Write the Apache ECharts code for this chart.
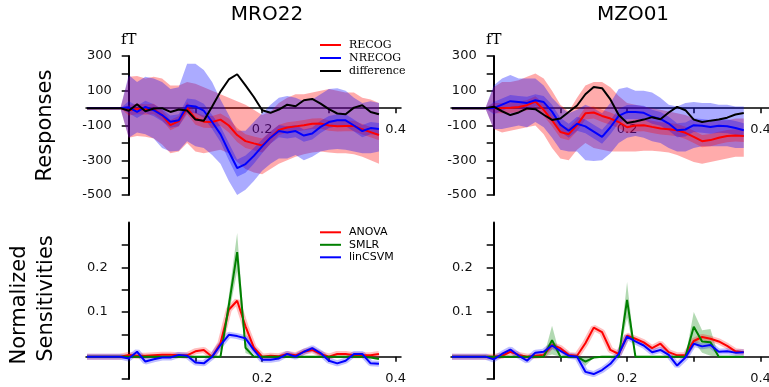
<!DOCTYPE html>
<html><head><meta charset="utf-8">
<script src="https://cdn.jsdelivr.net/npm/echarts@6/dist/echarts.min.js"></script>
<style>html,body{margin:0;padding:0;background:#fff}#c{width:769px;height:387px}</style>
</head><body><div id="c"></div>
<script>
// ---- time axis (s) ----
const times = [-0.0625,-0.05,-0.0375,-0.025,-0.0125,0,0.0125,0.025,0.0375,0.05,0.0625,0.075,0.0875,0.1,0.1125,0.125,0.1375,0.15,0.1625,0.175,0.1875,0.2,0.2125,0.225,0.2375,0.25,0.2625,0.275,0.2875,0.3,0.3125,0.325,0.3375,0.35,0.3625,0.375];
const xTicks = [0, 0.1, 0.2, 0.3, 0.4];
const xTickLabels = [0.2, 0.4];
const respTickLabels = [300, 100, -100, -300, -500];
const sensTicks = [-0.05, 0, 0.05, 0.1, 0.15, 0.2, 0.25];
const sensTickLabels = [0.1, 0.2];
const titles = ['MRO22', 'MZO01'];

// ---- MRO22 responses (fT) ----
const mroRecog   = [0,0,0,0,0,-12,-5,-8,-5,-40,-98,-75,0,-60,-78,-80,-66,-100,-155,-190,-203,-215,-170,-125,-112,-105,-98,-90,-88,-100,-105,-103,-103,-122,-138,-155];
const mroNrecog  = [0,0,0,0,0,5,-22,7,-12,-40,-78,-70,15,10,-15,-80,-150,-250,-345,-322,-275,-220,-170,-132,-140,-132,-158,-146,-108,-80,-70,-70,-100,-132,-115,-120];
const mroDiff    = [0,0,0,0,0,-15,22,-18,-2,0,-22,-8,-14,-66,-73,10,95,165,195,131,64,-12,-27,-8,20,11,45,53,26,-6,-31,-35,3,17,-22,-35];
const mroRecogHi = [0,0,0,0,0,180,185,170,180,170,130,130,150,140,120,100,80,60,40,20,-10,-40,-20,30,60,80,80,90,100,110,100,90,90,60,50,30];
const mroRecogLo = [0,0,0,0,0,-170,-160,-165,-175,-210,-260,-250,-200,-250,-260,-250,-240,-260,-310,-350,-370,-380,-350,-320,-300,-280,-265,-255,-250,-255,-260,-260,-265,-280,-300,-320];
const mroNrecogHi= [0,0,0,0,0,190,150,180,170,150,110,120,255,255,220,150,50,-40,-130,-130,-80,-30,20,60,70,60,40,50,80,110,115,100,60,30,40,30];
const mroNrecogLo= [0,0,0,0,0,-170,-140,-150,-175,-230,-250,-245,-190,-220,-230,-270,-320,-420,-500,-470,-420,-360,-320,-290,-290,-270,-300,-280,-250,-240,-235,-240,-250,-260,-260,-250];
const mroRecogSem  = [0,0,0,0,0,30,30,30,30,30,30,30,35,35,35,35,35,40,40,40,40,40,35,30,30,30,30,30,30,30,30,30,30,30,30,30];
const mroNrecogSem = [0,0,0,0,0,35,35,35,35,35,35,35,40,40,40,40,45,50,50,50,45,40,35,35,35,35,35,35,35,35,35,35,35,35,35,35];

// ---- MZO01 responses (fT) ----
const mzoRecog   = [0,0,0,0,0,0,0,2,7,17,38,-10,-70,-137,-150,-98,-30,-25,-45,-60,-80,-110,-100,-98,-108,-117,-121,-127,-142,-165,-190,-184,-171,-161,-157,-160];
const mzoNrecog  = [0,0,0,0,0,0,20,40,35,30,45,35,-20,-95,-130,-90,-105,-135,-165,-110,-45,-22,-22,-27,-50,-62,-89,-127,-123,-98,-102,-108,-102,-104,-114,-127];
const mzoDiff    = [0,0,0,0,0,8,-18,-40,-25,-2,-6,-38,-68,-60,-22,15,80,122,115,50,-40,-85,-77,-66,-52,-64,-25,7,-12,-66,-80,-72,-66,-55,-37,-28];
const mzoRecogHi = [0,0,0,0,0,120,150,150,160,180,200,170,100,20,-20,60,130,150,150,120,70,30,20,10,0,-10,-20,-30,-40,-60,-80,-80,-70,-70,-60,-60];
const mzoRecogLo = [0,0,0,0,0,-120,-140,-130,-120,-110,-100,-150,-230,-290,-300,-240,-200,-230,-240,-250,-250,-250,-250,-245,-245,-250,-255,-270,-290,-310,-320,-310,-300,-290,-280,-280];
const mzoNrecogHi= [0,0,0,0,0,130,170,190,170,170,170,130,60,10,-30,-10,20,0,-30,30,110,120,100,100,90,60,20,10,30,35,30,30,20,20,10,10];
const mzoNrecogLo= [0,0,0,0,0,-120,-120,-110,-100,-110,-80,-110,-170,-240,-250,-250,-300,-305,-300,-260,-200,-170,-160,-170,-190,-200,-230,-250,-250,-230,-220,-220,-220,-220,-230,-230];
const mzoRecogSem  = [0,0,0,0,0,30,30,30,30,30,30,35,35,35,35,35,35,35,35,35,35,35,35,35,35,35,35,35,35,35,35,35,35,35,35,35];
const mzoNrecogSem = [0,0,0,0,0,35,35,35,35,35,35,35,40,40,40,40,40,40,40,40,40,40,40,40,40,40,40,40,40,40,40,40,40,40,40,40];

// ---- normalized sensitivities ----
const mroAnova = [0,0,0,0,0,0.004,0.002,0.002,0.003,0.004,0.004,0.003,0.003,0.012,0.015,0.0,0.03,0.105,0.125,0.068,0.02,0.0,0.002,0.001,0.006,0.003,0.011,0.015,0.006,0.0,0.006,0.006,0.003,0.003,0.003,0.006];
const mroSmlr  = [0,0,0,0,0,0,0,0,0,0,0,0,0,0,0,0,0,0.115,0.234,0.02,0,0,0,0,0,0,0,0,0,0,0,0,0,0,-0.002,-0.005];
const mroSmlrSpread = [0,0,0,0,0,0,0,0,0,0,0,0,0,0,0,0,0,0.02,0.043,0.012,0,0,0,0,0,0,0,0,0,0,0,0,0,0,0,0];
const mroCsvm  = [0,0,0,0,0,-0.004,0.011,-0.011,-0.006,-0.002,-0.002,0.004,0.002,-0.013,-0.015,0.0,0.026,0.049,0.046,0.041,0.015,-0.007,-0.007,-0.004,0.006,0.0,0.011,0.019,0.008,-0.009,-0.015,-0.009,0.006,0.006,-0.015,-0.016];
const mzoAnova = [0,0,0,0,0,0,0.002,0.011,0.004,0.0,0.002,0.004,0.026,0.019,0.004,0.002,0.03,0.065,0.055,0.015,0.006,0.047,0.04,0.032,0.019,0.029,0.01,0.003,0.003,0.035,0.044,0.04,0.034,0.024,0.012,0.01];
const mzoSmlr  = [0,0,0,0,0,0,0,0,0,0,0,0,0.037,0,0,0,-0.011,-0.002,0,0,0,0.127,0,0,0,0,0,0,0,0.067,0.034,0.032,0,0,0,0];
const mzoSmlrSpread = [0,0,0,0,0,0,0,0,0,0,0,0,0.032,0,0,0,0.01,0,0,0,0,0.04,0,0,0,0,0,0,0,0.033,0.025,0.03,0,0,0,0];
const mzoCsvm  = [0,0,0,0,0,-0.006,0.006,0.016,0.002,-0.009,0.009,0.011,0.025,0.013,0.002,0.0,-0.034,-0.039,-0.03,-0.016,0.006,0.045,0.034,0.025,0.01,0.015,0.004,-0.02,-0.002,0.029,0.023,0.026,0.011,0.012,0.009,0.01];

// ---- helpers ----
const RED = '#ff0000', BLUE = '#0000ff', GREEN = '#008000', BLACK = '#000000';
const pairs = arr => times.map((t, i) => [t, arr[i]]);
const plus = (a, b) => a.map((v, i) => v + b[i]);
const minus = (a, b) => a.map((v, i) => v - b[i]);

function band(idx, lower, upper, color, z) {
  return {
    type: 'custom', xAxisIndex: idx, yAxisIndex: idx, silent: true, z: z,
    data: [[times[0], lower[0]]], encode: { x: 0, y: 1 },
    renderItem: function (params, api) {
      const pts = [];
      for (let i = 0; i < times.length; i++) pts.push(api.coord([times[i], upper[i]]));
      for (let i = times.length - 1; i >= 0; i--) pts.push(api.coord([times[i], lower[i]]));
      return { type: 'polygon', shape: { points: pts }, style: { fill: color } };
    }
  };
}
function line(idx, name, arr, color, width, z) {
  return {
    type: 'line', name: name, xAxisIndex: idx, yAxisIndex: idx, data: pairs(arr),
    symbol: 'none', silent: true, z: z,
    lineStyle: { color: color, width: width }, itemStyle: { color: color }
  };
}

const series = [];
[[0, mroRecog, mroNrecog, mroDiff, mroRecogHi, mroRecogLo, mroNrecogHi, mroNrecogLo, mroRecogSem, mroNrecogSem],
 [1, mzoRecog, mzoNrecog, mzoDiff, mzoRecogHi, mzoRecogLo, mzoNrecogHi, mzoNrecogLo, mzoRecogSem, mzoNrecogSem]]
.forEach(function (p) {
  const [i, rc, nr, df, rh, rl, nh, nl, rs, ns] = p;
  series.push(band(i, rl, rh, 'rgba(255,0,0,0.33)', 1));
  series.push(band(i, nl, nh, 'rgba(0,0,255,0.33)', 1));
  series.push(band(i, minus(rc, rs), plus(rc, rs), 'rgba(255,0,0,0.3)', 1));
  series.push(band(i, minus(nr, ns), plus(nr, ns), 'rgba(0,0,255,0.3)', 1));
  series.push(line(i, 'RECOG', rc, RED, 2, 3));
  series.push(line(i, 'NRECOG', nr, BLUE, 2, 3));
  series.push(line(i, 'difference', df, BLACK, 2, 3));
});
[[2, mroAnova, mroSmlr, mroSmlrSpread, mroCsvm],
 [3, mzoAnova, mzoSmlr, mzoSmlrSpread, mzoCsvm]]
.forEach(function (p) {
  const [i, an, sm, ss, cs] = p;
  series.push(band(i, minus(sm, ss), plus(sm, ss), 'rgba(0,128,0,0.3)', 1));
  series.push(line(i, 'ANOVA halo', an, 'rgba(255,0,0,0.25)', 6, 2));
  series.push(line(i, 'linCSVM halo', cs, 'rgba(0,0,255,0.25)', 6, 2));
  series.push(line(i, 'ANOVA', an, RED, 2, 3));
  series.push(line(i, 'SMLR', sm, GREEN, 2, 3));
  series.push(line(i, 'linCSVM', cs, BLUE, 2, 3));
});

const gridBoxes = [
  { left: 86, top: 56, width: 315, height: 139 },
  { left: 451, top: 56, width: 318, height: 139 },
  { left: 86, top: 222.6, width: 315, height: 156.4 },
  { left: 451, top: 222.6, width: 318, height: 156.4 }
];
const grids = gridBoxes.map(g => Object.assign({ containLabel: false, outerBoundsMode: 'none' }, g));
const xRanges = [[-0.064, 0.408], [-0.064, 0.4128], [-0.064, 0.408], [-0.064, 0.4128]];
const yRanges = [[-500, 300], [-500, 300], [-0.05, 0.3], [-0.05, 0.3]];

const axisFont = { fontFamily: 'DejaVu Sans', fontSize: 13, color: '#111' };
const xAxes = [0, 1, 2, 3].map(i => {
  const [ymin, ymax] = yRanges[i];
  // place the x axis on y = 0
  const off = -gridBoxes[i].height * (0 - ymin) / (ymax - ymin);
  return {
    type: 'value', gridIndex: i, min: xRanges[i][0], max: xRanges[i][1],
    position: 'bottom', offset: off,
    axisLine: { show: true, onZero: false, lineStyle: { color: '#000', width: 1.5 } },
    axisTick: { show: true, customValues: xTicks, length: 5, lineStyle: { color: '#000', width: 1.5 } },
    axisLabel: Object.assign({ customValues: xTickLabels, margin: 15 }, axisFont),
    splitLine: { show: false }
  };
});
const yAxes = [0, 1, 2, 3].map(i => {
  const top = i < 2;
  const [xmin, xmax] = xRanges[i];
  // place the y axis on x = 0
  const off = -gridBoxes[i].width * (0 - xmin) / (xmax - xmin);
  return {
    type: 'value', gridIndex: i, position: 'left', offset: off,
    min: yRanges[i][0], max: yRanges[i][1], interval: top ? 100 : 0.05,
    name: top ? 'fT' : '', nameLocation: 'end', nameGap: 8,
    nameTextStyle: { fontFamily: 'DejaVu Serif', fontSize: 15, color: '#000' },
    axisLine: { show: true, onZero: false, lineStyle: { color: '#000', width: 2 } },
    axisTick: top ? { show: true, length: 7, lineStyle: { color: '#000', width: 1.5 } }
                  : { show: true, customValues: sensTicks, length: 7, lineStyle: { color: '#000', width: 1.5 } },
    axisLabel: Object.assign({ customValues: top ? respTickLabels : sensTickLabels, margin: top ? 17 : 21 }, axisFont),
    splitLine: { show: false }
  };
});

const txt = (text, x, y, size, rot) => ({
  type: 'text', x: x, y: y, rotation: rot || 0, silent: true,
  style: { text: text, font: size + 'px "DejaVu Sans"', fill: '#000', textAlign: 'center', textVerticalAlign: 'middle', align: 'center', verticalAlign: 'middle' }
});

const option = {
  animation: false,
  textStyle: { fontFamily: 'DejaVu Sans' },
  grid: grids, xAxis: xAxes, yAxis: yAxes, series: series,
  legend: [
    { data: ['RECOG', 'NRECOG', 'difference'], orient: 'vertical', left: 320, top: 39, padding: 0,
      itemGap: 1, itemWidth: 21, itemHeight: 2, icon: 'rect', selectedMode: false,
      textStyle: { fontFamily: 'DejaVu Serif', fontSize: 11, color: '#000', lineHeight: 12, padding: [0, 0, 0, 3] } },
    { data: ['ANOVA', 'SMLR', 'linCSVM'], orient: 'vertical', left: 320, top: 226.3, padding: 0,
      itemGap: 0.5, itemWidth: 21, itemHeight: 2, icon: 'rect', selectedMode: false,
      textStyle: { fontFamily: 'DejaVu Sans', fontSize: 11, color: '#000', lineHeight: 12, padding: [0, 0, 0, 3] } }
  ],
  graphic: [
    txt(titles[0], 267, 15, 20),
    txt(titles[1], 633, 15, 20),
    txt('Responses', 46, 125.5, 21, Math.PI / 2),
    txt('Normalized', 20, 305, 21, Math.PI / 2),
    txt('Sensitivities', 46.5, 298.5, 21, Math.PI / 2)
  ]
};
const chart = echarts.init(document.getElementById('c'), null, { renderer: 'canvas' });
chart.setOption(option);
</script></body></html>
